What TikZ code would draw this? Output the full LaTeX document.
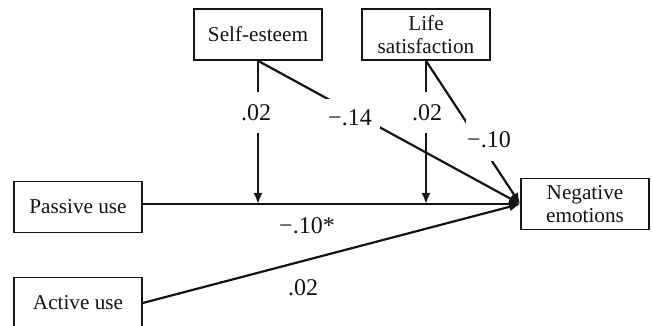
\documentclass[tikz,border=0pt]{standalone}
\usepackage{fontspec}
\setmainfont{Liberation Serif}
\usetikzlibrary{arrows.meta,positioning,calc}
\definecolor{inkC}{HTML}{141414}
\tikzset{
  >={Latex[length=5.5pt,width=4.6pt]},
  varBox/.style={draw=inkC,line width=0.8pt,fill=white,
                 font=\fontsize{10.6}{11.6}\selectfont,text=inkC,
                 minimum width=64pt,minimum height=25.5pt,inner sep=1pt,align=center},
  pathFlow/.style={->,line width=1.1pt,inkC},
  coefLbl/.style={font=\fontsize{12}{13}\selectfont,text=inkC,inner sep=0pt},
  coefGap/.style={coefLbl,fill=white},
}
\begin{document}
\begin{tikzpicture}[x=0.5pt,y=-0.5pt]
\useasboundingbox (0,0) rectangle (654,326);

% Predictors, moderators and outcome.
\node[varBox] (selfEst) at (258,34.5)  {Self-esteem};
\node[varBox] (lifeSat) at (426,34.5)  {Life\\ satisfaction};
\node[varBox] (passive) at (78,207)    {Passive use};
\node[varBox] (active)  at (78,303)    {Active use};
\node[varBox] (negEmo)  at (585,204)   {Negative\\ emotions};

% Direct paths.
\draw[pathFlow] (passive.east |- negEmo.west) -- (negEmo.west);
\draw[pathFlow] (active.east) -- (negEmo.west);

% Moderation onto the passive path, and direct moderator paths.
\draw[pathFlow] (selfEst.south) -- (selfEst.south |- negEmo.west);
\draw[pathFlow] (lifeSat.south) -- (lifeSat.south |- negEmo.west);
\draw[pathFlow] (selfEst.south) -- (negEmo.west);
\draw[pathFlow] (lifeSat.south) -- (negEmo.west);

% Coefficients; white boxes cut the lines where they sit.
\node[coefGap,minimum width=14pt,minimum height=20.5pt] (cSelfMod) at (256,113) {.02};
\node[coefGap,minimum width=14pt,minimum height=20.5pt] (cLifeMod) at (427,113) {.02};
\node[coefGap,minimum width=30pt,minimum height=19pt]   (cSelf)    at (350,118) {−.14};
\node[coefGap,minimum width=23pt,minimum height=21pt]   (cLife)    at (489,140) {−.10};
\node[coefLbl] (cPassive) at (307,226) {−.10*};
\node[coefLbl] (cActive)  at (303,288) {.02};

\end{tikzpicture}
\end{document}
